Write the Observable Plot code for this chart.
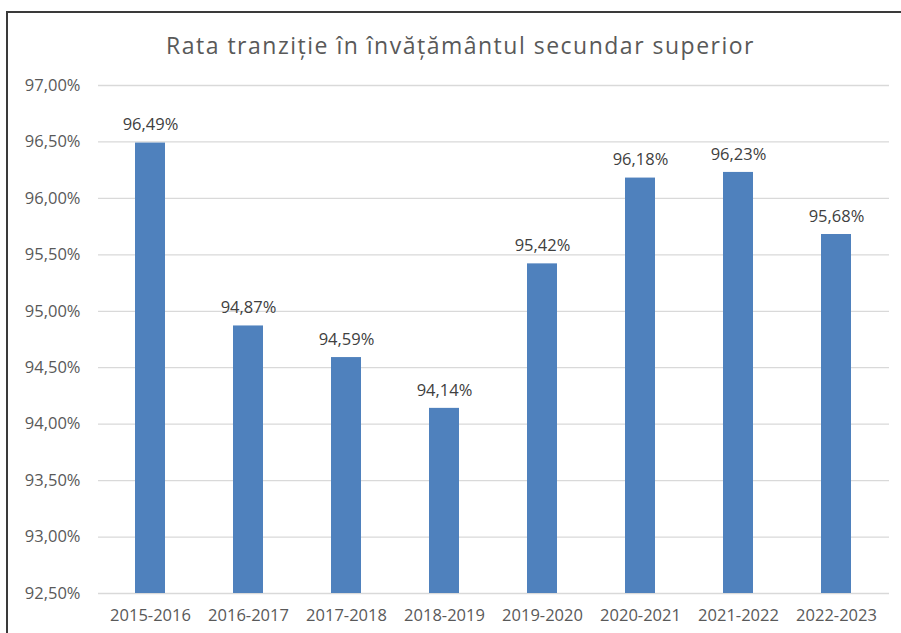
<!DOCTYPE html>
<html>
<head>
<meta charset="utf-8">
<script src="https://cdn.jsdelivr.net/npm/d3@7"></script>
<script src="https://cdn.jsdelivr.net/npm/@observablehq/plot@0.6"></script>
<style>
  html, body { margin: 0; padding: 0; background: #fff; overflow: hidden; }
  #wrap { position: relative; width: 901px; height: 633px; font-family: "Open Sans", sans-serif; }
  #frame { position: absolute; left: 6px; top: 11px; width: 1000px; height: 1000px;
           border-left: 2px solid #3a3a3a; border-top: 2px solid #3a3a3a; }
  #title { position: absolute; left: 0; width: 921px; top: 29px; text-align: center;
           font-size: 23px; letter-spacing: 1.5px; color: #595959; white-space: nowrap; }
  #chart { position: absolute; left: 0; top: 0; }
</style>
</head>
<body>
<div id="wrap">
  <div id="frame"></div>
  <div id="title">Rata tranziție în învățământul secundar superior</div>
  <div id="chart"></div>
</div>
<script>
const years = ["2015-2016", "2016-2017", "2017-2018", "2018-2019", "2019-2020", "2020-2021", "2021-2022", "2022-2023"];
const rates = [96.49, 94.87, 94.59, 94.14, 95.42, 96.18, 96.23, 95.68];
const yTicks = [92.5, 93, 93.5, 94, 94.5, 95, 95.5, 96, 96.5, 97];
const yMin = 92.5, yMax = 97;

const data = years.map((y, i) => ({ year: y, rate: rates[i] }));
const fmt = d => d.toFixed(2).replace(".", ",") + "%";

const plot = Plot.plot({
  width: 901,
  height: 633,
  marginLeft: 98,
  marginRight: 12,
  marginTop: 85,
  marginBottom: 40,
  style: { fontFamily: "'Open Sans', sans-serif", fontSize: "16.5px", color: "#595959", background: "transparent" },
  x: { domain: years, paddingInner: 0.69, paddingOuter: 0.345, label: null },
  y: { domain: [yMin, yMax], ticks: yTicks, label: null },
  marks: [
    Plot.gridY(yTicks, { stroke: "#d9d9d9", strokeOpacity: 1, strokeWidth: 1.3 }),
    Plot.barY(data, { x: "year", y1: () => yMin, y2: "rate", fill: "#4f81bd" }),
    Plot.text(data, { x: "year", y: "rate", text: d => fmt(d.rate), dy: -18, fill: "#404040", fontSize: 16.5 }),
    Plot.axisY(yTicks, { tickSize: 0, tickPadding: 18, tickFormat: fmt, label: null, fill: "#595959" }),
    Plot.axisX({ tickSize: 0, tickPadding: 16, label: null, fill: "#595959" })
  ]
});
document.getElementById("chart").appendChild(plot);
</script>
</body>
</html>
